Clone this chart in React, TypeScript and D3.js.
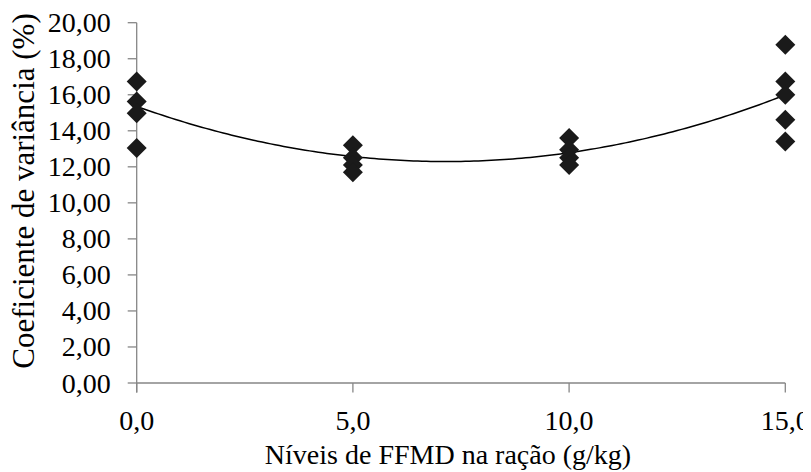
import * as d3 from "d3";

// dietary levels (g/kg) and observed CV values per level
const levels = [0, 5, 10, 15];
const cvAt0 = [16.74, 15.63, 14.98, 13.04];
const cvAt5 = [13.2, 12.5, 12.1, 11.7];
const cvAt10 = [13.6, 12.95, 12.5, 12.1];
const cvAt15 = [18.78, 16.74, 16.0, 14.61, 13.4];
const cvSeries = [cvAt0, cvAt5, cvAt10, cvAt15];

// fitted quadratic trend: y = a + b x + c x^2
const trendCoef = [15.35, -0.8557, 0.0599];

const yTicks = [0, 2, 4, 6, 8, 10, 12, 14, 16, 18, 20];
const xTicks = [0, 5, 10, 15];

const x = d3.scaleLinear().domain([0, 15]).range([136.7, 785.3]);
const y = d3.scaleLinear().domain([0, 20]).range([383, 22.7]);
const axisColor = "#868686";
const comma = (v: number, d: number) => v.toFixed(d).replace(".", ",");

export default function App() {
  const [a, b, c] = trendCoef;
  const curvePts = d3.range(0, 15.01, 0.1).map(v => [v, a + b * v + c * v * v]);
  const curve = d3.line().x(d => x(d[0])).y(d => y(d[1]))(curvePts as [number, number][]);
  const sym = d3.symbol().type(d3.symbolSquare).size(200)();
  const pts = levels.flatMap((lv, i) => cvSeries[i].map(v => ({ lv, v })));

  // the svg sits at the 8px body margin; the viewBox keeps page coords = chart coords
  return (
    <svg width={811} height={472} viewBox="8 8 811 472">
      {/* y axis */}
      <g transform={`translate(${x(0)},0)`}>
        <line y1={y(20)} y2={y(0) + 9.5} stroke={axisColor} strokeWidth={1.3} />
        {yTicks.map(t => (
          <g key={t}>
            <line x1={-9} x2={0} y1={y(t)} y2={y(t)} stroke={axisColor} strokeWidth={1.3} />
            <text x={-26} y={y(t)} dy="0.34em" textAnchor="end"
              style={{ fontFamily: '"Liberation Serif"', fontSize: "28px" }}>{comma(t, 2)}</text>
          </g>
        ))}
      </g>

      {/* x axis */}
      <g transform={`translate(0,${y(0)})`}>
        <line x1={x(0)} x2={x(15)} stroke={axisColor} strokeWidth={1.3} />
        {xTicks.map(t => (
          <g key={t}>
            <line x1={x(t)} x2={x(t)} y1={0} y2={9.5} stroke={axisColor} strokeWidth={1.3} />
            <text x={x(t)} y={47} textAnchor="middle"
              style={{ fontFamily: '"Liberation Serif"', fontSize: "28px" }}>{comma(t, 1)}</text>
          </g>
        ))}
      </g>

      {/* axis titles */}
      <text x={448} y={464} textAnchor="middle"
        style={{ fontFamily: '"Liberation Serif"', fontSize: "28px" }}>Níveis de FFMD na ração (g/kg)</text>
      <text transform="translate(34,191) rotate(-90)" textAnchor="middle"
        style={{ fontFamily: '"Liberation Serif"', fontSize: "31px" }}>Coeficiente de variância (%)</text>

      {/* trend */}
      <path d={curve ?? ""} fill="none" stroke="#000" strokeWidth={1.5} />

      {/* points */}
      {pts.map((p, i) => (
        <path key={i} d={sym ?? ""} fill="#1a1a1a"
          transform={`translate(${x(p.lv)},${y(p.v)}) rotate(45)`} />
      ))}
    </svg>
  );
}
